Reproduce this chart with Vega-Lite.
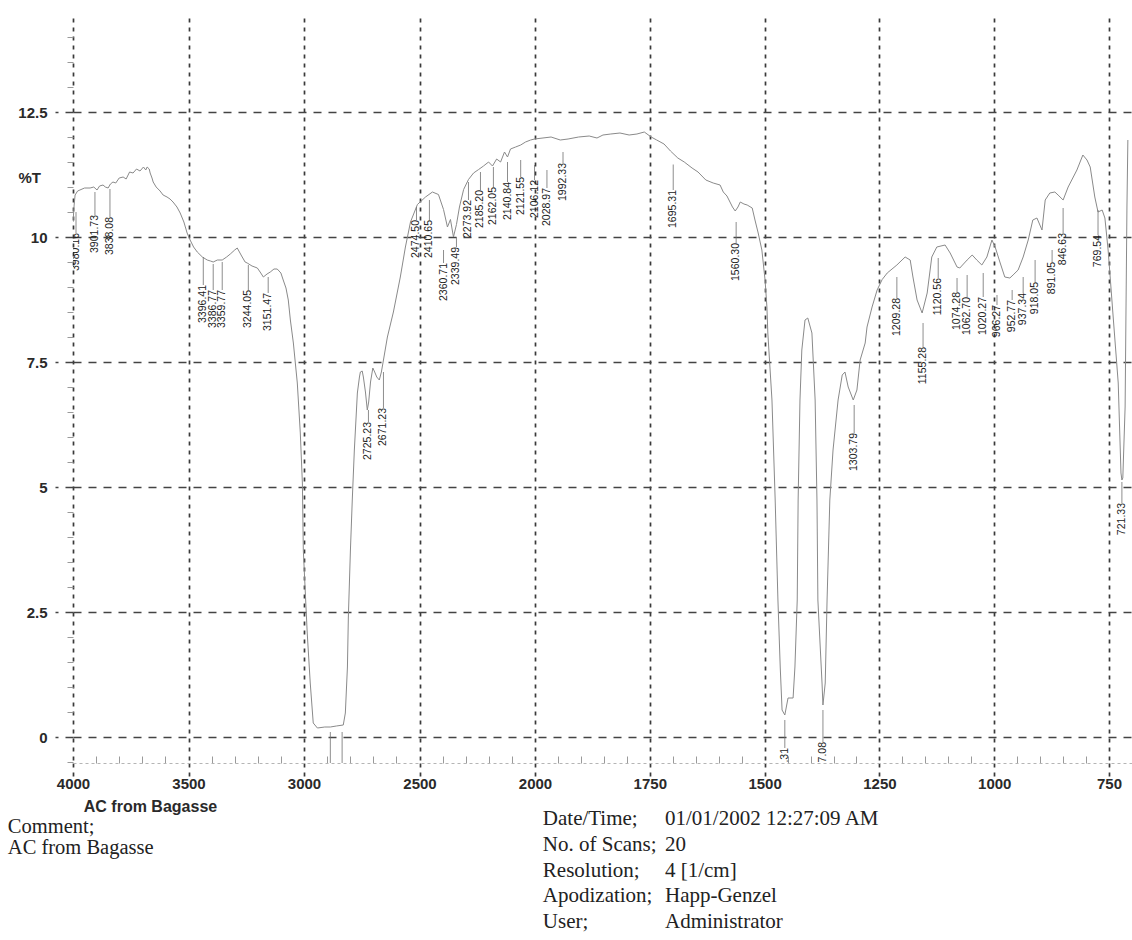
{
  "$schema": "https://vega.github.io/schema/vega-lite/v6.json",
  "width": 1059,
  "height": 745,
  "autosize": {"type": "none"},
  "padding": {"left": 73, "top": 18, "right": 0, "bottom": 177},
  "background": "white",
  "config": {"view": {"stroke": null}, "font": "Liberation Sans"},
  "datasets": {
    "spectrum": [
      {"wn":4000,"t":10.3},{"wn":3995,"t":10.64},{"wn":3991,"t":10.84},{"wn":3980,"t":10.92},{"wn":3970,"t":10.94},
      {"wn":3950,"t":10.98},{"wn":3926,"t":10.98},{"wn":3910,"t":11.0},{"wn":3896,"t":10.94},{"wn":3885,"t":11.02},
      {"wn":3870,"t":11.04},{"wn":3860,"t":11.0},{"wn":3848,"t":10.98},{"wn":3838,"t":11.06},{"wn":3827,"t":11.1},
      {"wn":3815,"t":11.08},{"wn":3800,"t":11.18},{"wn":3783,"t":11.2},{"wn":3770,"t":11.16},{"wn":3755,"t":11.3},
      {"wn":3740,"t":11.28},{"wn":3725,"t":11.36},{"wn":3710,"t":11.32},{"wn":3695,"t":11.4},{"wn":3685,"t":11.34},
      {"wn":3679,"t":11.4},{"wn":3670,"t":11.36},{"wn":3666,"t":11.28},{"wn":3658,"t":11.18},{"wn":3653,"t":11.1},
      {"wn":3640,"t":11.0},{"wn":3623,"t":10.92},{"wn":3610,"t":10.84},{"wn":3593,"t":10.8},{"wn":3580,"t":10.76},
      {"wn":3567,"t":10.7},{"wn":3550,"t":10.6},{"wn":3536,"t":10.48},{"wn":3520,"t":10.3},{"wn":3506,"t":10.08},
      {"wn":3493,"t":9.94},{"wn":3478,"t":9.8},{"wn":3462,"t":9.7},{"wn":3440,"t":9.6},{"wn":3419,"t":9.54},
      {"wn":3405,"t":9.52},{"wn":3393,"t":9.5},{"wn":3375,"t":9.54},{"wn":3354,"t":9.54},{"wn":3335,"t":9.6},
      {"wn":3319,"t":9.66},{"wn":3300,"t":9.74},{"wn":3289,"t":9.78},{"wn":3270,"t":9.62},{"wn":3255,"t":9.5},
      {"wn":3246,"t":9.48},{"wn":3225,"t":9.42},{"wn":3202,"t":9.38},{"wn":3190,"t":9.3},{"wn":3176,"t":9.2},
      {"wn":3160,"t":9.26},{"wn":3146,"t":9.3},{"wn":3130,"t":9.36},{"wn":3116,"t":9.36},{"wn":3100,"t":9.28},
      {"wn":3090,"t":9.14},{"wn":3078,"t":8.98},{"wn":3068,"t":8.74},{"wn":3059,"t":8.34},{"wn":3046,"t":7.88},
      {"wn":3029,"t":7.08},{"wn":3016,"t":6.08},{"wn":3007,"t":5.08},{"wn":3003,"t":3.74},{"wn":2986,"t":2.08},
      {"wn":2973,"t":1.08},{"wn":2960,"t":0.28},{"wn":2942,"t":0.18},{"wn":2910,"t":0.2},{"wn":2886,"t":0.2},
      {"wn":2860,"t":0.22},{"wn":2830,"t":0.24},{"wn":2821,"t":0.48},{"wn":2812,"t":1.4},{"wn":2808,"t":2.4},
      {"wn":2799,"t":3.74},{"wn":2791,"t":4.74},{"wn":2782,"t":5.74},{"wn":2769,"t":6.88},{"wn":2760,"t":7.2},
      {"wn":2756,"t":7.3},{"wn":2748,"t":7.32},{"wn":2743,"t":7.2},{"wn":2734,"t":6.9},{"wn":2726,"t":6.54},
      {"wn":2720,"t":6.7},{"wn":2712,"t":7.1},{"wn":2702,"t":7.38},{"wn":2694,"t":7.3},{"wn":2685,"t":7.2},
      {"wn":2674,"t":7.14},{"wn":2665,"t":7.3},{"wn":2656,"t":7.54},{"wn":2639,"t":8.0},{"wn":2613,"t":8.5},
      {"wn":2583,"t":9.2},{"wn":2561,"t":9.8},{"wn":2539,"t":10.3},{"wn":2509,"t":10.65},{"wn":2474,"t":10.8},
      {"wn":2444,"t":10.9},{"wn":2418,"t":10.85},{"wn":2396,"t":10.55},{"wn":2379,"t":10.2},{"wn":2366,"t":10.35},
      {"wn":2353,"t":10.0},{"wn":2340,"t":10.25},{"wn":2327,"t":10.6},{"wn":2309,"t":10.95},{"wn":2288,"t":11.15},
      {"wn":2266,"t":11.28},{"wn":2244,"t":11.35},{"wn":2223,"t":11.42},{"wn":2201,"t":11.5},{"wn":2184,"t":11.42},
      {"wn":2166,"t":11.56},{"wn":2149,"t":11.5},{"wn":2132,"t":11.7},{"wn":2119,"t":11.6},{"wn":2106,"t":11.76},
      {"wn":2084,"t":11.8},{"wn":2062,"t":11.84},{"wn":2041,"t":11.9},{"wn":2019,"t":11.94},{"wn":2002,"t":11.96},
      {"wn":1965,"t":12.0},{"wn":1945,"t":11.94},{"wn":1928,"t":11.96},{"wn":1905,"t":12.0},{"wn":1882,"t":12.02},
      {"wn":1865,"t":11.98},{"wn":1852,"t":12.04},{"wn":1835,"t":12.06},{"wn":1815,"t":12.08},{"wn":1795,"t":12.04},
      {"wn":1778,"t":12.06},{"wn":1762,"t":12.1},{"wn":1747,"t":12.0},{"wn":1735,"t":11.94},{"wn":1719,"t":11.86},
      {"wn":1705,"t":11.72},{"wn":1689,"t":11.58},{"wn":1675,"t":11.5},{"wn":1658,"t":11.38},{"wn":1645,"t":11.3},
      {"wn":1628,"t":11.14},{"wn":1612,"t":11.08},{"wn":1597,"t":11.04},{"wn":1590,"t":10.9},{"wn":1582,"t":10.82},
      {"wn":1570,"t":10.6},{"wn":1564,"t":10.52},{"wn":1558,"t":10.6},{"wn":1553,"t":10.7},{"wn":1545,"t":10.66},
      {"wn":1538,"t":10.64},{"wn":1527,"t":10.58},{"wn":1521,"t":10.34},{"wn":1514,"t":10.08},{"wn":1506,"t":9.74},
      {"wn":1499,"t":9.14},{"wn":1495,"t":8.6},{"wn":1493,"t":8.08},{"wn":1484,"t":6.74},{"wn":1477,"t":4.74},
      {"wn":1471,"t":2.74},{"wn":1466,"t":1.4},{"wn":1462,"t":0.54},{"wn":1456,"t":0.44},{"wn":1449,"t":0.78},
      {"wn":1438,"t":0.78},{"wn":1434,"t":1.4},{"wn":1429,"t":2.74},{"wn":1427,"t":4.74},{"wn":1423,"t":6.74},
      {"wn":1419,"t":7.74},{"wn":1412,"t":8.34},{"wn":1406,"t":8.38},{"wn":1397,"t":8.08},{"wn":1390,"t":6.74},
      {"wn":1386,"t":4.74},{"wn":1384,"t":2.74},{"wn":1375,"t":1.08},{"wn":1373,"t":0.64},{"wn":1368,"t":1.08},
      {"wn":1364,"t":2.74},{"wn":1358,"t":4.74},{"wn":1351,"t":5.74},{"wn":1340,"t":6.74},{"wn":1331,"t":7.24},
      {"wn":1325,"t":7.3},{"wn":1318,"t":7.0},{"wn":1307,"t":6.74},{"wn":1299,"t":6.94},{"wn":1292,"t":7.54},
      {"wn":1281,"t":7.88},{"wn":1277,"t":8.2},{"wn":1266,"t":8.6},{"wn":1255,"t":8.94},{"wn":1244,"t":9.15},
      {"wn":1233,"t":9.28},{"wn":1212,"t":9.44},{"wn":1194,"t":9.6},{"wn":1183,"t":9.54},{"wn":1177,"t":9.2},
      {"wn":1168,"t":8.74},{"wn":1157,"t":8.48},{"wn":1146,"t":8.88},{"wn":1136,"t":9.6},{"wn":1125,"t":9.8},
      {"wn":1107,"t":9.84},{"wn":1096,"t":9.68},{"wn":1081,"t":9.4},{"wn":1075,"t":9.38},{"wn":1059,"t":9.54},
      {"wn":1048,"t":9.64},{"wn":1038,"t":9.54},{"wn":1027,"t":9.44},{"wn":1016,"t":9.6},{"wn":1005,"t":9.94},
      {"wn":998,"t":9.8},{"wn":987,"t":9.48},{"wn":977,"t":9.2},{"wn":966,"t":9.18},{"wn":959,"t":9.24},
      {"wn":948,"t":9.34},{"wn":937,"t":9.6},{"wn":926,"t":9.94},{"wn":916,"t":10.34},{"wn":907,"t":10.38},
      {"wn":896,"t":10.14},{"wn":889,"t":10.74},{"wn":879,"t":10.88},{"wn":868,"t":10.9},{"wn":861,"t":10.84},
      {"wn":850,"t":10.74},{"wn":839,"t":11.0},{"wn":820,"t":11.34},{"wn":807,"t":11.64},{"wn":798,"t":11.54},
      {"wn":791,"t":11.4},{"wn":781,"t":10.8},{"wn":774,"t":10.5},{"wn":765,"t":10.54},{"wn":759,"t":10.38},
      {"wn":752,"t":9.74},{"wn":741,"t":8.4},{"wn":730,"t":7.08},{"wn":724,"t":5.28},{"wn":722,"t":5.14},
      {"wn":720,"t":5.18},{"wn":715,"t":6.6},{"wn":713,"t":8.6},{"wn":711,"t":10.6},{"wn":709,"t":11.94}
    ],
    "peaks": [
      {"wn":3987,"t":10.5,"ly":10.08,"label":"3980.16"},
      {"wn":3905,"t":10.9,"ly":10.44,"label":"3901.73"},
      {"wn":3840,"t":10.96,"ly":10.4,"label":"3838.08"},
      {"wn":3436,"t":9.6,"ly":9.04,"label":"3396.41"},
      {"wn":3393,"t":9.46,"ly":8.94,"label":"3386.77"},
      {"wn":3354,"t":9.5,"ly":8.94,"label":"3359.77"},
      {"wn":3241,"t":9.44,"ly":8.94,"label":"3244.05"},
      {"wn":3155,"t":9.2,"ly":8.88,"label":"3151.47"},
      {"wn":2886,"t":0.1,"ly":-0.6,"label":""},
      {"wn":2835,"t":0.1,"ly":-0.6,"label":""},
      {"wn":2721,"t":6.54,"ly":6.3,"label":"2725.23"},
      {"wn":2656,"t":7.3,"ly":6.58,"label":"2671.23"},
      {"wn":2513,"t":10.6,"ly":10.34,"label":"2474.50"},
      {"wn":2457,"t":10.74,"ly":10.34,"label":"2410.65"},
      {"wn":2396,"t":9.74,"ly":9.48,"label":"2360.71"},
      {"wn":2340,"t":10.0,"ly":9.8,"label":"2339.49"},
      {"wn":2288,"t":11.1,"ly":10.74,"label":"2273.92"},
      {"wn":2236,"t":11.3,"ly":10.94,"label":"2185.20"},
      {"wn":2180,"t":11.4,"ly":11.0,"label":"2162.05"},
      {"wn":2119,"t":11.5,"ly":11.1,"label":"2140.84"},
      {"wn":2062,"t":11.54,"ly":11.2,"label":"2121.55"},
      {"wn":2002,"t":11.44,"ly":11.14,"label":"2106.12"},
      {"wn":1974,"t":11.34,"ly":10.98,"label":"2028.97"},
      {"wn":1939,"t":11.7,"ly":11.48,"label":"1992.33"},
      {"wn":1699,"t":11.45,"ly":10.94,"label":"1695.31"},
      {"wn":1562,"t":10.3,"ly":9.88,"label":"1560.30"},
      {"wn":1456,"t":0.34,"ly":-0.22,"label":"1462.31"},
      {"wn":1373,"t":0.54,"ly":-0.1,"label":"1377.08"},
      {"wn":1305,"t":6.64,"ly":6.08,"label":"1303.79"},
      {"wn":1212,"t":9.2,"ly":8.78,"label":"1209.28"},
      {"wn":1155,"t":8.28,"ly":7.8,"label":"1155.28"},
      {"wn":1122,"t":9.58,"ly":9.18,"label":"1120.56"},
      {"wn":1081,"t":9.18,"ly":8.9,"label":"1074.28"},
      {"wn":1059,"t":9.24,"ly":8.8,"label":"1062.70"},
      {"wn":1024,"t":9.28,"ly":8.8,"label":"1020.27"},
      {"wn":994,"t":8.84,"ly":8.64,"label":"966.27"},
      {"wn":961,"t":8.94,"ly":8.74,"label":"952.77"},
      {"wn":937,"t":9.2,"ly":8.88,"label":"937.34"},
      {"wn":911,"t":9.54,"ly":9.1,"label":"918.05"},
      {"wn":874,"t":9.74,"ly":9.5,"label":"891.05"},
      {"wn":850,"t":10.58,"ly":10.08,"label":"846.63"},
      {"wn":774,"t":10.54,"ly":10.04,"label":"769.54"},
      {"wn":722,"t":5.1,"ly":4.68,"label":"721.33"}
    ]
  },
  "layer": [
    {
      "data": {"name": "spectrum"},
      "mark": {"type": "line", "color": "#8a8a8a", "strokeWidth": 1, "clip": true},
      "encoding": {
        "x": {
          "field": "wn", "type": "quantitative",
          "scale": {"domain": [4000, 2000, 700], "range": [0, 462, 1059], "nice": false, "zero": false},
          "axis": {
            "values": [4000,3900,3800,3700,3600,3500,3400,3300,3200,3100,3000,2900,2800,2700,2600,2500,2400,2300,2200,2100,2000,1950,1900,1850,1800,1750,1700,1650,1600,1550,1500,1450,1400,1350,1300,1250,1200,1150,1100,1050,1000,950,900,850,800,750,700],
            "tickCount": 500,
            "labelExpr": "(datum.value % 500 === 0 || (datum.value <= 2000 && datum.value % 250 === 0)) ? format(datum.value, 'd') : ''",
            "labelFont": "Liberation Sans", "labelFontSize": 15, "labelFontWeight": "bold", "labelColor": "#2a2a2a",
            "labelPadding": 0, "labelFlush": false, "labelOverlap": false,
            "grid": true, "gridColor": "#3a3a3a", "gridDash": [4, 5], "gridWidth": 1.7,
            "gridOpacity": {"condition": {"test": "datum.value % 500 === 0 || (datum.value <= 2000 && datum.value % 250 === 0)", "value": 1}, "value": 0},
            "ticks": true,
            "tickSize": {"condition": {"test": "datum.value % 500 === 0 || (datum.value <= 2000 && datum.value % 250 === 0)", "value": 13}, "value": -7},
            "tickColor": {"condition": {"test": "datum.value % 500 === 0 || (datum.value <= 2000 && datum.value % 250 === 0)", "value": "#3a3a3a"}, "value": "#9a9a9a"},
            "tickWidth": {"condition": {"test": "datum.value % 500 === 0 || (datum.value <= 2000 && datum.value % 250 === 0)", "value": 1.7}, "value": 1},
            "tickDash": {"condition": {"test": "datum.value % 500 === 0 || (datum.value <= 2000 && datum.value % 250 === 0)", "value": [4, 5]}, "value": []},
            "domain": true, "domainColor": "#b5b5b5", "domainDash": [3, 3], "domainWidth": 1,
            "title": "AC from Bagasse", "titleFont": "Liberation Sans", "titleFontSize": 16, "titleFontWeight": "bold",
            "titleColor": "#2a2a2a", "titleX": 77, "titleY": 48, "titleAlign": "center", "titleBaseline": "alphabetic"
          }
        },
        "y": {
          "field": "t", "type": "quantitative",
          "scale": {"domain": [-0.52, 14.38], "nice": false, "zero": false},
          "axis": {
            "values": [-0.5,0,0.5,1,1.5,2,2.5,3,3.5,4,4.5,5,5.5,6,6.5,7,7.5,8,8.5,9,9.5,10,10.5,11,11.5,12,12.5,13,13.5,14],
            "tickCount": 500,
            "labelExpr": "datum.value % 2.5 === 0 ? format(datum.value, '~g') : ''",
            "labelFont": "Liberation Sans", "labelFontSize": 15, "labelFontWeight": "bold", "labelColor": "#2a2a2a",
            "labelPadding": 8, "labelOverlap": false,
            "grid": true, "gridColor": "#444444", "gridDash": [8, 7], "gridWidth": 1.5,
            "gridOpacity": {"condition": {"test": "datum.value % 2.5 === 0", "value": 1}, "value": 0},
            "tickSize": {"condition": {"test": "datum.value % 2.5 === 0", "value": 18}, "value": 6},
            "tickColor": {"condition": {"test": "datum.value % 2.5 === 0", "value": "#444444"}, "value": "#9a9a9a"},
            "tickDash": {"condition": {"test": "datum.value % 2.5 === 0", "value": [8, 7]}, "value": []},
            "tickWidth": {"condition": {"test": "datum.value % 2.5 === 0", "value": 1.5}, "value": 1},
            "domain": false,
            "title": "%T", "titleFont": "Liberation Sans", "titleFontSize": 15, "titleFontWeight": "bold",
            "titleColor": "#2a2a2a", "titleAngle": 0, "titleX": -55, "titleY": 159, "titleAlign": "left", "titleBaseline": "middle"
          }
        }
      }
    },
    {
      "data": {"name": "peaks"},
      "mark": {"type": "rule", "color": "#707070", "strokeWidth": 0.8, "clip": true},
      "encoding": {
        "x": {"field": "wn", "type": "quantitative"},
        "y": {"field": "t", "type": "quantitative"},
        "y2": {"field": "ly"}
      }
    },
    {
      "data": {"name": "peaks"},
      "mark": {"type": "text", "angle": 270, "align": "right", "baseline": "middle", "font": "Liberation Sans", "fontSize": 10.5, "color": "#222222", "clip": true},
      "encoding": {
        "x": {"field": "wn", "type": "quantitative"},
        "y": {"field": "ly", "type": "quantitative"},
        "text": {"field": "label"}
      }
    },
    {
      "data": {"values": [{}]},
      "mark": {"type": "text", "align": "left", "baseline": "alphabetic", "font": "Liberation Serif", "fontSize": 20.5, "lineHeight": 21, "color": "#222222",
               "text": ["Comment;", "AC from Bagasse"]},
      "encoding": {"x": {"datum": 4282}, "y": {"datum": -1.92}}
    },
    {
      "data": {"values": [{}]},
      "mark": {"type": "text", "align": "left", "baseline": "alphabetic", "font": "Liberation Serif", "fontSize": 21, "lineHeight": 25.8, "color": "#222222",
               "text": ["Date/Time;", "No. of Scans;", "Resolution;", "Apodization;", "User;"]},
      "encoding": {"x": {"datum": 1983}, "y": {"datum": -1.76}}
    },
    {
      "data": {"values": [{}]},
      "mark": {"type": "text", "align": "left", "baseline": "alphabetic", "font": "Liberation Serif", "fontSize": 21, "lineHeight": 25.8, "color": "#222222",
               "text": ["01/01/2002 12:27:09 AM", "20", "4 [1/cm]", "\u00a0\u00a0Happ-Genzel", "Administrator"]},
      "encoding": {"x": {"datum": 1717}, "y": {"datum": -1.76}}
    }
  ]
}
